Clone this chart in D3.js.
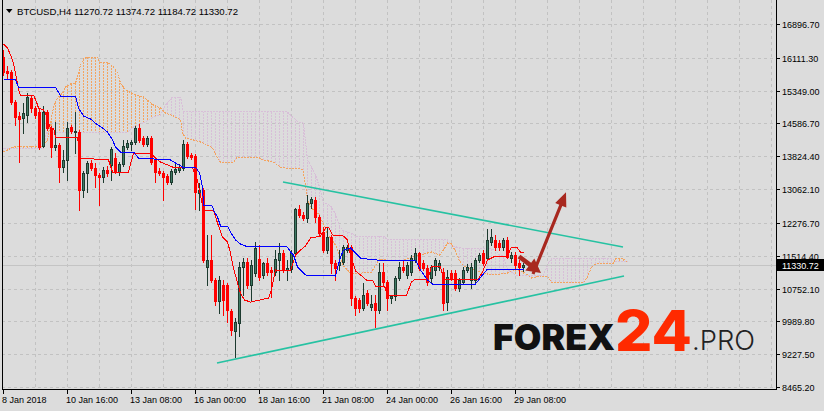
<!DOCTYPE html>
<html><head><meta charset="utf-8">
<script src="https://cdn.jsdelivr.net/npm/d3@7"></script>
<style>
html,body{margin:0;padding:0;background:#dcdcdc;}
svg{display:block;}
</style></head><body>
<svg id="c" width="824" height="411"></svg>
<script>
// ---------------- DATA ----------------
const symbol = "BTCUSD,H4";
const headerValues = ["11270.72", "11374.72", "11184.72", "11330.72"];
const yTickLabels = ["16896.70","16111.30","15349.00","14586.70","13824.40","13062.10","12276.70","11514.40","10752.10","9989.80","9227.50","8465.20"];
const xTickBars = [0, 16, 32, 48, 64, 80, 96, 112, 128];
const xTickLabels = ["8 Jan 2018","10 Jan 16:00","13 Jan 08:00","16 Jan 00:00","18 Jan 16:00","21 Jan 08:00","24 Jan 00:00","26 Jan 16:00","29 Jan 08:00"];
const lastPrice = 11330.72;

const opens = [16153,15828,15805,15108,14783,14736,14806,15201,14968,14876,14086,14876,14504,14063,14109,13598,13761,14527,14411,14411,
13064,13459,13691,13575,13412,13366,13528,13645,13807,13482,13668,14063,14132,14179,14504,14272,14132,14272,13761,13505,
13459,13389,13250,13482,13528,13575,14132,13877,13854,12994,13064,11275,11438,10973,10486,10857,10857,10253,9789,9975,
11275,11392,10857,11136,11461,11090,11368,11206,11159,11438,11601,11206,11229,11601,12623,12483,12414,12762,12832,12437,
12088,11670,11972,11368,11322,11392,11670,11740,10555,10509,10323,10671,10346,10439,10277,11159,10927,10555,10602,11020,
11275,11090,11159,11438,11601,11368,11252,11020,11206,11275,11159,10462,11136,11136,10788,10927,11206,10973,10973,11438,
11601,11484,11856,11903,11833,11740,11903,11484,11554,11368,11270.72];
const highs = [16316,15944,15851,15154,14876,15085,15317,15270,15015,14968,15015,14922,14550,14643,14156,13993,14643,14574,14876,14457,
13505,13737,13761,13691,13459,13598,13621,14063,13923,13714,14225,14225,14225,14550,14597,14318,14318,14318,13807,13575,
13505,13436,13552,13691,13668,14225,14179,13923,13900,13226,13110,12019,12019,11020,11066,10973,10904,10300,10091,11392,
11484,11484,11438,11856,11786,11392,11484,11275,11670,11833,11670,11438,11670,12646,12715,12553,12948,12901,12901,12483,
12204,12204,12019,11438,11670,11786,11786,11786,10602,10555,10904,10741,10625,10625,11368,11368,10973,10625,11066,11392,
11438,11392,11554,11717,11624,11438,11322,11322,11484,11438,11252,11206,11206,11206,11020,11275,11345,11368,11484,11601,
11670,12158,12158,12019,11903,11949,11972,11624,11624,11438,11374.72];
const lows = [15735,15642,15061,14574,13714,14388,14643,14876,14736,14016,14063,14457,13830,13993,13250,13482,13296,14388,13923,12599,
12901,13017,13528,13134,12715,13250,13389,13296,13459,13412,13621,14016,13993,14132,14179,14086,14086,13668,13250,13412,
12832,13203,13203,13436,13482,13528,13807,13784,12623,12599,11392,10857,10927,10393,10207,10160,9998,9696,9185,9673,
10625,10788,10509,11066,10973,11020,11090,10579,11090,10973,11159,10973,11159,11531,12437,12367,12321,12646,12321,12019,
11624,11601,11136,10973,11206,11345,11624,10393,10160,10230,10277,10393,10277,9882,10207,10857,10277,10439,10509,10973,
11159,11020,11090,11392,11206,11206,10857,10927,11090,11206,10277,10277,10973,10741,10718,10881,11159,10788,10927,11392,
11322,11438,11786,11670,11670,11670,11484,11392,11252,11090,11184.72];
const closes = [15805,15781,15108,14759,14713,14852,15224,14968,14806,14063,14876,14504,14063,14109,13598,13761,14504,14434,14434,13064,
13459,13691,13575,13412,13366,13528,13459,14016,13482,13668,14086,14156,14179,14504,14225,14132,14272,13714,13482,13459,
13366,13250,13505,13552,13598,14132,13854,13830,13017,13064,11438,11438,10973,10486,10973,10509,10277,9812,9998,11275,
11392,10857,11322,11717,11043,11368,11159,11159,11461,11601,11206,11252,11601,12623,12483,12414,12762,12855,12437,12065,
11670,11972,11368,11252,11392,11740,11740,10555,10323,10323,10625,10439,10416,10277,11159,10927,10555,10602,11020,11275,
11206,11322,11484,11601,11252,11252,10927,11275,11438,11368,10439,11043,11020,10788,10973,11206,11275,11275,11438,11554,
11368,11903,11972,11740,11740,11903,11508,11554,11322,11275,11330.72];

// Ichimoku lines as [bar, price] vertices
const tenkan = [[0,16455],[1,16362],[1.75,16200],[2.5,16014],[3,15781],[3.5,15549],[4,15317],[4.25,15270],[7.5,15270],[8.25,15108],
[8.75,14968],[10,14922],[10.5,14852],[11,14690],[11.75,14504],[12.5,14504],[13,14295],[18.5,14272],[19.25,13807],[26.25,13761],
[27.25,13482],[31.25,13482],[32.5,13923],[36.75,13923],[38,13807],[39.25,13714],[42.25,13598],[47.25,13575],[48.5,13296],[50,12599],
[52.5,12599],[53.5,12297],[54.75,11972],[56,11856],[56.75,11601],[57.5,11252],[58.5,10904],[59.25,10671],[60.25,10509],[61.75,10462],
[66.25,10555],[67,10741],[68,11206],[71.75,11183],[73,11554],[74.25,11670],[75.5,11763],[76.75,11949],[79.25,11995],[80.5,12181],
[81.25,12204],[82.25,12019],[85,11995],[86,11903],[86.75,11554],[88,11183],[89.25,11090],[90.75,10973],[92.25,10973],[93,10834],
[95.25,10834],[96,10625],[100.75,10625],[102,10927],[103,10997],[105.75,10997],[106.5,11113],[107,11287],[109.25,11287],[110,10997],
[118.75,10997],[119.75,11159],[121,11438],[123,11531],[126,11531],[127,11740],[128.5,11717],[129.25,11624],[130,11624]];
const kijun = [[0,15619],[3,15619],[3.75,15456],[13,15456],[14.25,15247],[18,15247],[18.75,14968],[20,14783],[21.75,14713],[23.25,14597],
[24.75,14504],[26,14411],[27.25,14225],[28,14063],[29.25,13946],[32.5,13946],[33.75,13807],[41.75,13761],[43,13691],[44.75,13598],
[48,13598],[49,13459],[49.75,13134],[50,12715],[52.25,12692],[52.5,12599],[53.5,12437],[54.25,12228],[56,12228],[56.75,12088],
[58,11903],[59.25,11810],[60.5,11763],[71,11740],[71.75,11624],[72.5,11554],[73.5,11275],[74.25,11206],[75.5,11090],[83,11066],
[83.5,11252],[84.25,11508],[85,11670],[86.75,11717],[88,11601],[89.25,11484],[91,11461],[93.5,11438],[103,11438],[104.25,11206],
[106,10973],[107.25,10881],[118,10881],[118.75,10973],[119.75,11090],[121,11229],[130,11229]];
const spanA = [[0,13946],[2.5,14063],[4.25,14086],[10,14086],[11,14225],[11.75,14620],[12.5,14992],[13.5,15201],[14.75,15317],[15.5,15456],
[16.75,15526],[18,15549],[18.5,15689],[19.25,15967],[20,16107],[21,16153],[23.5,16153],[24,16037],[26.25,16014],[27.5,15921],
[28.5,15781],[29.25,15549],[30.5,15387],[32.5,15294],[35,15224],[36,15154],[37.5,15038],[39.25,14968],[40.5,14852],[42.5,14783],
[44.25,14690],[44.75,14388],[45.5,14272],[47.5,14225],[49.25,14179],[51,14109],[52.25,14039],[53.5,13807],[54.25,13714],[57.5,13714],
[58.5,13830],[63.5,13830],[65,13761],[67.5,13714],[69.25,13598],[70.5,13575],[73.5,13575],[74.75,13528],[75,13459],[75.5,13180],
[76,12832],[77,12646],[79,12483],[81,12042],[83,11786],[85,11299],[87,11113],[92,11159],[94,11461],[98,11415],
[100,11438],[103,11531],[107,11624],[109,11554],[110,11670],[111,11833],[112,11810],[113,11647],[114,11415],[115,11299],
[116,11252],[118,11206],[120,11136],[122,11090],[126,11136],[128,11229],[130,11159],[132,11020],[134,11066],[136,11066],
[137,10927],[145,10904],[146,11043],[147,11275],[148.5,11368],[152.5,11368],[153,11484],[155,11461],[156,11392]];
const spanB = [[0,14039],[10,14039],[10.75,14411],[31,14411],[32.5,14527],[35,14620],[37.5,14759],[39.25,14806],[40.5,15038],[42.25,15224],
[44.25,15224],[45,14876],[71,14876],[72.25,14759],[73.75,14643],[75,14620],[76,13761],[77,13598],[78,13412],[79,13134],
[80,12762],[81,12739],[82,12669],[83,12506],[84,12228],[85,12112],[87,12065],[88,11995],[95,11995],[96,11903],
[111,11903],[112,11763],[114.5,11717],[122,11694],[123,11670],[124,11554],[125,11531],[126,11206],[127,11159],[128,11090],
[135,11090],[136,11322],[137,11484],[152,11484],[153,11415],[156,11392]];

// drawn annotations: [bar, price]
const upperTrend = [[70,13250],[155,11740]];
const lowerTrend = [[53.5,9046],[155.25,11066]];
const arrowDown = [[129,11520],[134.5,11136]];
const arrowUp = [[132.5,11113],[140.75,13010]];

// ---------------- CHART ----------------
const W = 824, H = 411;
const L = 2, R = 776, B = 389;
const svg = d3.select("#c");
const x = d3.scaleLinear().domain([0, 130]).range([3, 523]);
const y = d3.scaleLinear().domain([8442.4, 17477]).range([389, 0]);
const px = i => Math.round(x(i));

svg.append("rect").attr("width", W).attr("height", H).attr("fill", "#dcdcdc");
svg.append("defs").append("clipPath").attr("id", "clip")
  .append("rect").attr("x", L + 1).attr("y", 0).attr("width", R - L - 1).attr("height", B);

const grid = svg.append("g").attr("shape-rendering", "crispEdges");
const gridColor = "#c2c2c2";
yTickLabels.forEach(l => {
  const yy = Math.round(y(+l)) - 0.5;
  grid.append("line").attr("x1", L).attr("x2", R).attr("y1", yy).attr("y2", yy)
    .attr("stroke", gridColor).attr("stroke-dasharray", "3,3");
});
d3.range(8, 194, 8).forEach(i => {
  const xx = px(i) + 0.5;
  grid.append("line").attr("x1", xx).attr("x2", xx).attr("y1", 0).attr("y2", B)
    .attr("stroke", gridColor).attr("stroke-dasharray", "3,3");
});

const plot = svg.append("g").attr("clip-path", "url(#clip)");

function interp(arr, i) {
  if (i <= arr[0][0]) return arr[0][1];
  for (let k = 1; k < arr.length; k++) {
    if (i <= arr[k][0]) {
      const [i0, v0] = arr[k - 1], [i1, v1] = arr[k];
      return v0 + (v1 - v0) * (i - i0) / (i1 - i0);
    }
  }
  return arr[arr.length - 1][1];
}

// cloud hatch (one dotted vertical per bar)
const hatch = plot.append("g").attr("shape-rendering", "crispEdges");
d3.range(0, 157).forEach(j => {
  const a = interp(spanA, j), b = interp(spanB, j);
  const xx = px(j) + 0.5;
  hatch.append("line").attr("x1", xx).attr("x2", xx)
    .attr("y1", y(a)).attr("y2", y(b))
    .attr("stroke", a >= b ? "#f4a460" : "#d8bfd8")
    .attr("stroke-dasharray", "2,1");
});
const line = d3.line().x(d => x(d[0]) + 0.5).y(d => y(d[1]));
plot.append("path").datum(spanA).attr("d", line).attr("fill", "none")
  .attr("stroke", "#f4a460").attr("stroke-dasharray", "2,1").attr("shape-rendering", "crispEdges");
plot.append("path").datum(spanB).attr("d", line).attr("fill", "none")
  .attr("stroke", "#d8bfd8").attr("stroke-dasharray", "2,1").attr("shape-rendering", "crispEdges");

// current price line
const lpY = Math.round(y(lastPrice)) + 0.5;
plot.append("line").attr("x1", L).attr("x2", R).attr("y1", lpY).attr("y2", lpY)
  .attr("stroke", "#c4c4c4").attr("shape-rendering", "crispEdges");

// candles
const candles = opens.map((o, i) => ({ i, o, h: highs[i], l: lows[i], c: closes[i] }));
const cg = plot.append("g").attr("shape-rendering", "crispEdges");
candles.forEach(d => {
  const cx = px(d.i);
  const up = d.c >= d.o;
  const col = up ? "#1d3a2f" : "#ff0000";
  cg.append("line").attr("x1", cx + 0.5).attr("x2", cx + 0.5)
    .attr("y1", Math.round(y(d.h))).attr("y2", Math.round(y(d.l)) + 1).attr("stroke", col);
  const top = Math.round(y(Math.max(d.o, d.c)));
  const bot = Math.round(y(Math.min(d.o, d.c)));
  const h = Math.max(1, bot - top + 1);
  cg.append("rect").attr("x", cx - 1).attr("y", top).attr("width", 3).attr("height", h).attr("fill", col);
  if (up && h > 2) {
    cg.append("rect").attr("x", cx).attr("y", top + 1).attr("width", 1).attr("height", h - 2).attr("fill", "#3f7a64");
  }
});

// tenkan / kijun
plot.append("path").datum(tenkan).attr("d", line).attr("fill", "none")
  .attr("stroke", "#ff0000").attr("stroke-width", 1).attr("shape-rendering", "crispEdges");
plot.append("path").datum(kijun).attr("d", line).attr("fill", "none")
  .attr("stroke", "#0000ff").attr("stroke-width", 1).attr("shape-rendering", "crispEdges");

// trend lines
const tline = d3.line().x(d => x(d[0])).y(d => y(d[1]));
[upperTrend, lowerTrend].forEach(t => {
  plot.append("path").datum(t).attr("d", tline).attr("fill", "none")
    .attr("stroke", "#26c2a2").attr("stroke-width", 1.6);
});

// arrows
function arrow(pts, shaftW, headL, headW) {
  const x0 = x(pts[0][0]), y0 = y(pts[0][1]), x1 = x(pts[1][0]), y1 = y(pts[1][1]);
  const dx = x1 - x0, dy = y1 - y0, len = Math.hypot(dx, dy);
  const ux = dx / len, uy = dy / len, nx = -uy, ny = ux;
  const bx = x1 - ux * headL, by = y1 - uy * headL;
  const p = [
    [x0 + nx * shaftW / 2, y0 + ny * shaftW / 2],
    [bx + nx * shaftW / 2, by + ny * shaftW / 2],
    [bx + nx * headW / 2, by + ny * headW / 2],
    [x1, y1],
    [bx - nx * headW / 2, by - ny * headW / 2],
    [bx - nx * shaftW / 2, by - ny * shaftW / 2],
    [x0 - nx * shaftW / 2, y0 - ny * shaftW / 2]
  ];
  plot.append("path").attr("d", "M" + p.map(q => q.join(",")).join("L") + "Z").attr("fill", "#a8281f");
}
arrow(arrowDown, 4.5, 14, 15);
arrow(arrowUp, 3.2, 14, 12);

// axes frame
const ax = svg.append("g").attr("shape-rendering", "crispEdges");
ax.append("line").attr("x1", L + 0.5).attr("x2", L + 0.5).attr("y1", 0).attr("y2", B + 1).attr("stroke", "#000");
ax.append("line").attr("x1", R + 0.5).attr("x2", R + 0.5).attr("y1", 0).attr("y2", B + 1).attr("stroke", "#000");
ax.append("line").attr("x1", L).attr("x2", R + 1).attr("y1", B + 0.5).attr("y2", B + 0.5).attr("stroke", "#000");

const fontAxis = "'Liberation Sans', Arial, sans-serif";
yTickLabels.forEach(l => {
  const yy = Math.round(y(+l)) - 0.5;
  ax.append("line").attr("x1", R).attr("x2", R + 4).attr("y1", yy).attr("y2", yy).attr("stroke", "#000");
  svg.append("text").attr("x", 782).attr("y", yy + 3.5).attr("font-family", fontAxis)
    .attr("font-size", 9).attr("fill", "#000").text(l);
});
xTickBars.forEach((b, k) => {
  const xx = px(b) + 0.5;
  ax.append("line").attr("x1", xx).attr("x2", xx).attr("y1", B).attr("y2", B + 5).attr("stroke", "#000");
  svg.append("text").attr("x", px(b) - 1).attr("y", 402.5).attr("font-family", fontAxis)
    .attr("font-size", 9).attr("fill", "#000").text(xTickLabels[k]);
});

// last price label
svg.append("rect").attr("x", 777).attr("y", Math.round(y(lastPrice)) - 6).attr("width", 47).attr("height", 12).attr("fill", "#000");
svg.append("text").attr("x", 782).attr("y", Math.round(y(lastPrice)) + 3.5).attr("font-family", fontAxis)
  .attr("font-size", 9).attr("fill", "#fff").text(lastPrice.toFixed(2));

// header
svg.append("path").attr("d", "M6,9L12.5,9L9.25,13Z").attr("fill", "#000");
svg.append("text").attr("x", 17).attr("y", 14.5).attr("font-family", fontAxis).attr("font-size", 9.6)
  .attr("fill", "#000").attr("textLength", 221).attr("lengthAdjust", "spacing")
  .text(symbol + "  " + headerValues.join(" "));

// logo
const logo = svg.append("g");
logo.append("text").attr("x", 493).attr("y", 350).attr("font-family", "Inter, 'Noto Sans', sans-serif")
  .attr("font-weight", 900).attr("font-size", 35).attr("fill", "#111")
  .attr("textLength", 122).attr("lengthAdjust", "spacingAndGlyphs").text("FOREX");
logo.append("text").attr("x", 615).attr("y", 351).attr("font-family", "Inter, 'Noto Sans', sans-serif")
  .attr("font-weight", 800).attr("font-size", 56).attr("fill", "#ff2a00")
  .attr("textLength", 77).attr("lengthAdjust", "spacingAndGlyphs").text("24");
logo.append("text").attr("x", 692).attr("y", 350).attr("font-family", "Inter, 'Noto Sans', sans-serif")
  .attr("font-weight", 300).attr("font-size", 27).attr("fill", "#222")
  .attr("textLength", 63).attr("lengthAdjust", "spacingAndGlyphs").text(".PRO");
</script>
</body></html>
